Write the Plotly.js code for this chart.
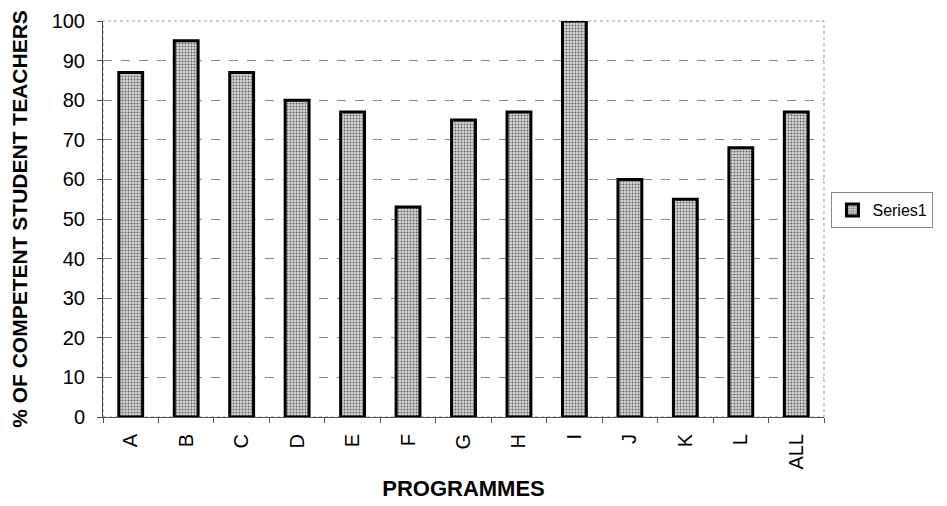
<!DOCTYPE html>
<html>
<head>
<meta charset="utf-8">
<script src="https://cdn.plot.ly/plotly-3.0.1.min.js"></script>
<style>html,body{margin:0;padding:0;background:#fff;}#chart{width:947px;height:506px;}</style>
</head>
<body>
<div id="chart"></div>
<script>
const categories = ["A","B","C","D","E","F","G","H","I","J","K","L","ALL"];
const series1 = [87, 95, 87, 80, 77, 53, 75, 77, 100, 60, 55, 68, 77];
const yTicks = [0,10,20,30,40,50,60,70,80,90,100];
const seriesName = "Series1";
const xTitle = "PROGRAMMES";
const yTitle = "% OF COMPETENT STUDENT TEACHERS";

const font = "Liberation Sans, Arial, sans-serif";

const trace = {
  type: "bar",
  x: categories,
  y: series1,
  name: seriesName,
  showlegend: true,
  marker: {
    color: "#d4d4d4",
    line: {color: "#000", width: 3},
    pattern: {shape: ".", fgcolor: "#666", bgcolor: "#d6d6d6", size: 3, solidity: 0.35}
  }
};

const layout = {
  width: 947, height: 506,
  margin: {l: 103, r: 123, t: 21, b: 89, pad: 0},
  paper_bgcolor: "#fff", plot_bgcolor: "#fff",
  bargap: 0.57,
  font: {family: font, color: "#000", size: 20},
  xaxis: {
    type: "category",
    tickangle: -90,
    ticks: "outside", ticklen: 5, tickcolor: "#555", tickson: "boundaries",
    showline: true, linecolor: "#555", linewidth: 1, mirror: false,
    showgrid: false, automargin: false,
    tickfont: {family: font, size: 20},
    ticklabelstandoff: 8,
    title: {text: xTitle, font: {family: font, size: 22, weight: "bold"}, standoff: 12}
  },
  yaxis: {
    range: [0, 100],
    tickvals: yTicks,
    ticks: "outside", ticklen: 5, tickcolor: "#555",
    showline: true, linecolor: "#444", linewidth: 1,
    showgrid: true, gridcolor: "#888", griddash: "dash", gridwidth: 1,
    zeroline: false, automargin: false,
    tickfont: {family: font, size: 20},
    ticklabelstandoff: 8,
    title: {text: yTitle, font: {family: font, size: 21, weight: "bold"}, standoff: 18}
  },
  shapes: [{
    type: "rect", xref: "paper", yref: "paper", x0: 0, x1: 1, y0: 0, y1: 1,
    line: {color: "#999", width: 1, dash: "dot"}, layer: "below"
  }],
  legend: {
    xref: "container", yref: "container",
    x: 0.878, y: 0.585, xanchor: "left", yanchor: "middle",
    bordercolor: "#888", borderwidth: 1, bgcolor: "#fff",
    font: {family: font, size: 16},
    itemwidth: 30
  }
};

Plotly.newPlot("chart", [trace], layout, {displayModeBar: false, staticPlot: true});
</script>
</body>
</html>
